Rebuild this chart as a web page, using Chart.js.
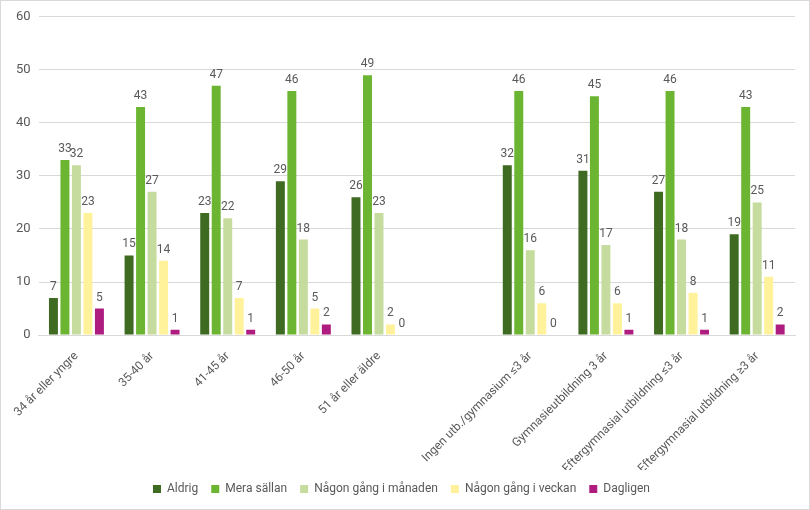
<!DOCTYPE html>
<html>
<head>
<meta charset="utf-8">
<script src="https://cdn.jsdelivr.net/npm/chart.js@4"></script>
<style>
  html, body { margin: 0; padding: 0; background: #fff; }
  #wrap { width: 810px; height: 510px; box-sizing: border-box; border: 1px solid #d9d9d9; }
  canvas { display: block; }
</style>
</head>
<body>
<div id="wrap"><canvas id="barChart" width="808" height="508"></canvas></div>
<script>
// categories (empty one is the gap between the two groups)
var categories = ["34 år eller yngre", "35-40 år", "41-45 år", "46-50 år", "51 år eller äldre", "",
  "Ingen utb./gymnasium ≤3 år", "Gymnasieutbildning 3 år", "Eftergymnasial utbildning ≤3 år", "Eftergymnasial utbildning ≥3 år"];

var aldrig     = [7, 15, 23, 29, 26, null, 32, 31, 27, 19];
var meraSallan = [33, 43, 47, 46, 49, null, 46, 45, 46, 43];
var manaden    = [32, 27, 22, 18, 23, null, 16, 17, 18, 25];
var veckan     = [23, 14, 7, 5, 2, null, 6, 6, 8, 11];
var dagligen   = [5, 1, 1, 2, 0, null, 0, 1, 1, 2];

var yTicks = [0, 10, 20, 30, 40, 50, 60];

Chart.defaults.font.family = "Roboto, 'Open Sans', sans-serif";
Chart.defaults.color = '#595959';

// draws the value above each bar
var valueLabels = {
    id: 'valueLabels',
    afterDatasetsDraw: function(chart) {
        var ctx = chart.ctx;
        ctx.save();
        ctx.font = "12px Roboto, sans-serif";
        ctx.fillStyle = '#595959';
        ctx.textAlign = 'center';
        ctx.textBaseline = 'bottom';
        chart.data.datasets.forEach(function(ds, i) {
            var meta = chart.getDatasetMeta(i);
            if (meta.hidden) return;
            meta.data.forEach(function(bar, j) {
                var v = ds.data[j];
                if (v === null || v === undefined) return;
                ctx.fillText(String(v), bar.x, bar.y - 5);
            });
        });
        ctx.restore();
    }
};

var ctxB = document.getElementById("barChart").getContext('2d');
var chart = new Chart(ctxB, {
    type: 'bar',
    data: {
        labels: categories,
        datasets: [
            { label: "Aldrig", backgroundColor: '#3e6b21', data: aldrig },
            { label: "Mera sällan", backgroundColor: '#6cb532', data: meraSallan },
            { label: "Någon gång i månaden", backgroundColor: '#c6dc9e', data: manaden },
            { label: "Någon gång i veckan", backgroundColor: '#fff29b', data: veckan },
            { label: "Dagligen", backgroundColor: '#ae1c7f', data: dagligen }
        ]
    },
    options: {
        responsive: false,
        animation: false,
        layout: { padding: { top: 6, right: 14, left: 7, bottom: 4 } },
        datasets: { bar: { categoryPercentage: 0.76, barPercentage: 0.78 } },
        plugins: {
            legend: {
                position: 'bottom',
                labels: { boxWidth: 8, boxHeight: 8, font: { size: 12 }, color: '#595959', padding: 13 }
            },
            tooltip: { enabled: false }
        },
        scales: {
            x: {
                grid: { display: false },
                border: { color: '#d9d9d9' },
                ticks: { minRotation: 45, maxRotation: 45, font: { size: 12 }, color: '#595959', autoSkip: false, padding: 6 },
                afterFit: function(scale) { scale.height = scale.height - 12; }
            },
            y: {
                min: yTicks[0],
                max: yTicks[yTicks.length - 1],
                ticks: { stepSize: 10, font: { size: 13 }, color: '#595959', padding: 8 },
                grid: { color: '#d9d9d9', drawTicks: false },
                border: { display: false }
            }
        }
    },
    plugins: [valueLabels]
});
</script>
</body>
</html>
